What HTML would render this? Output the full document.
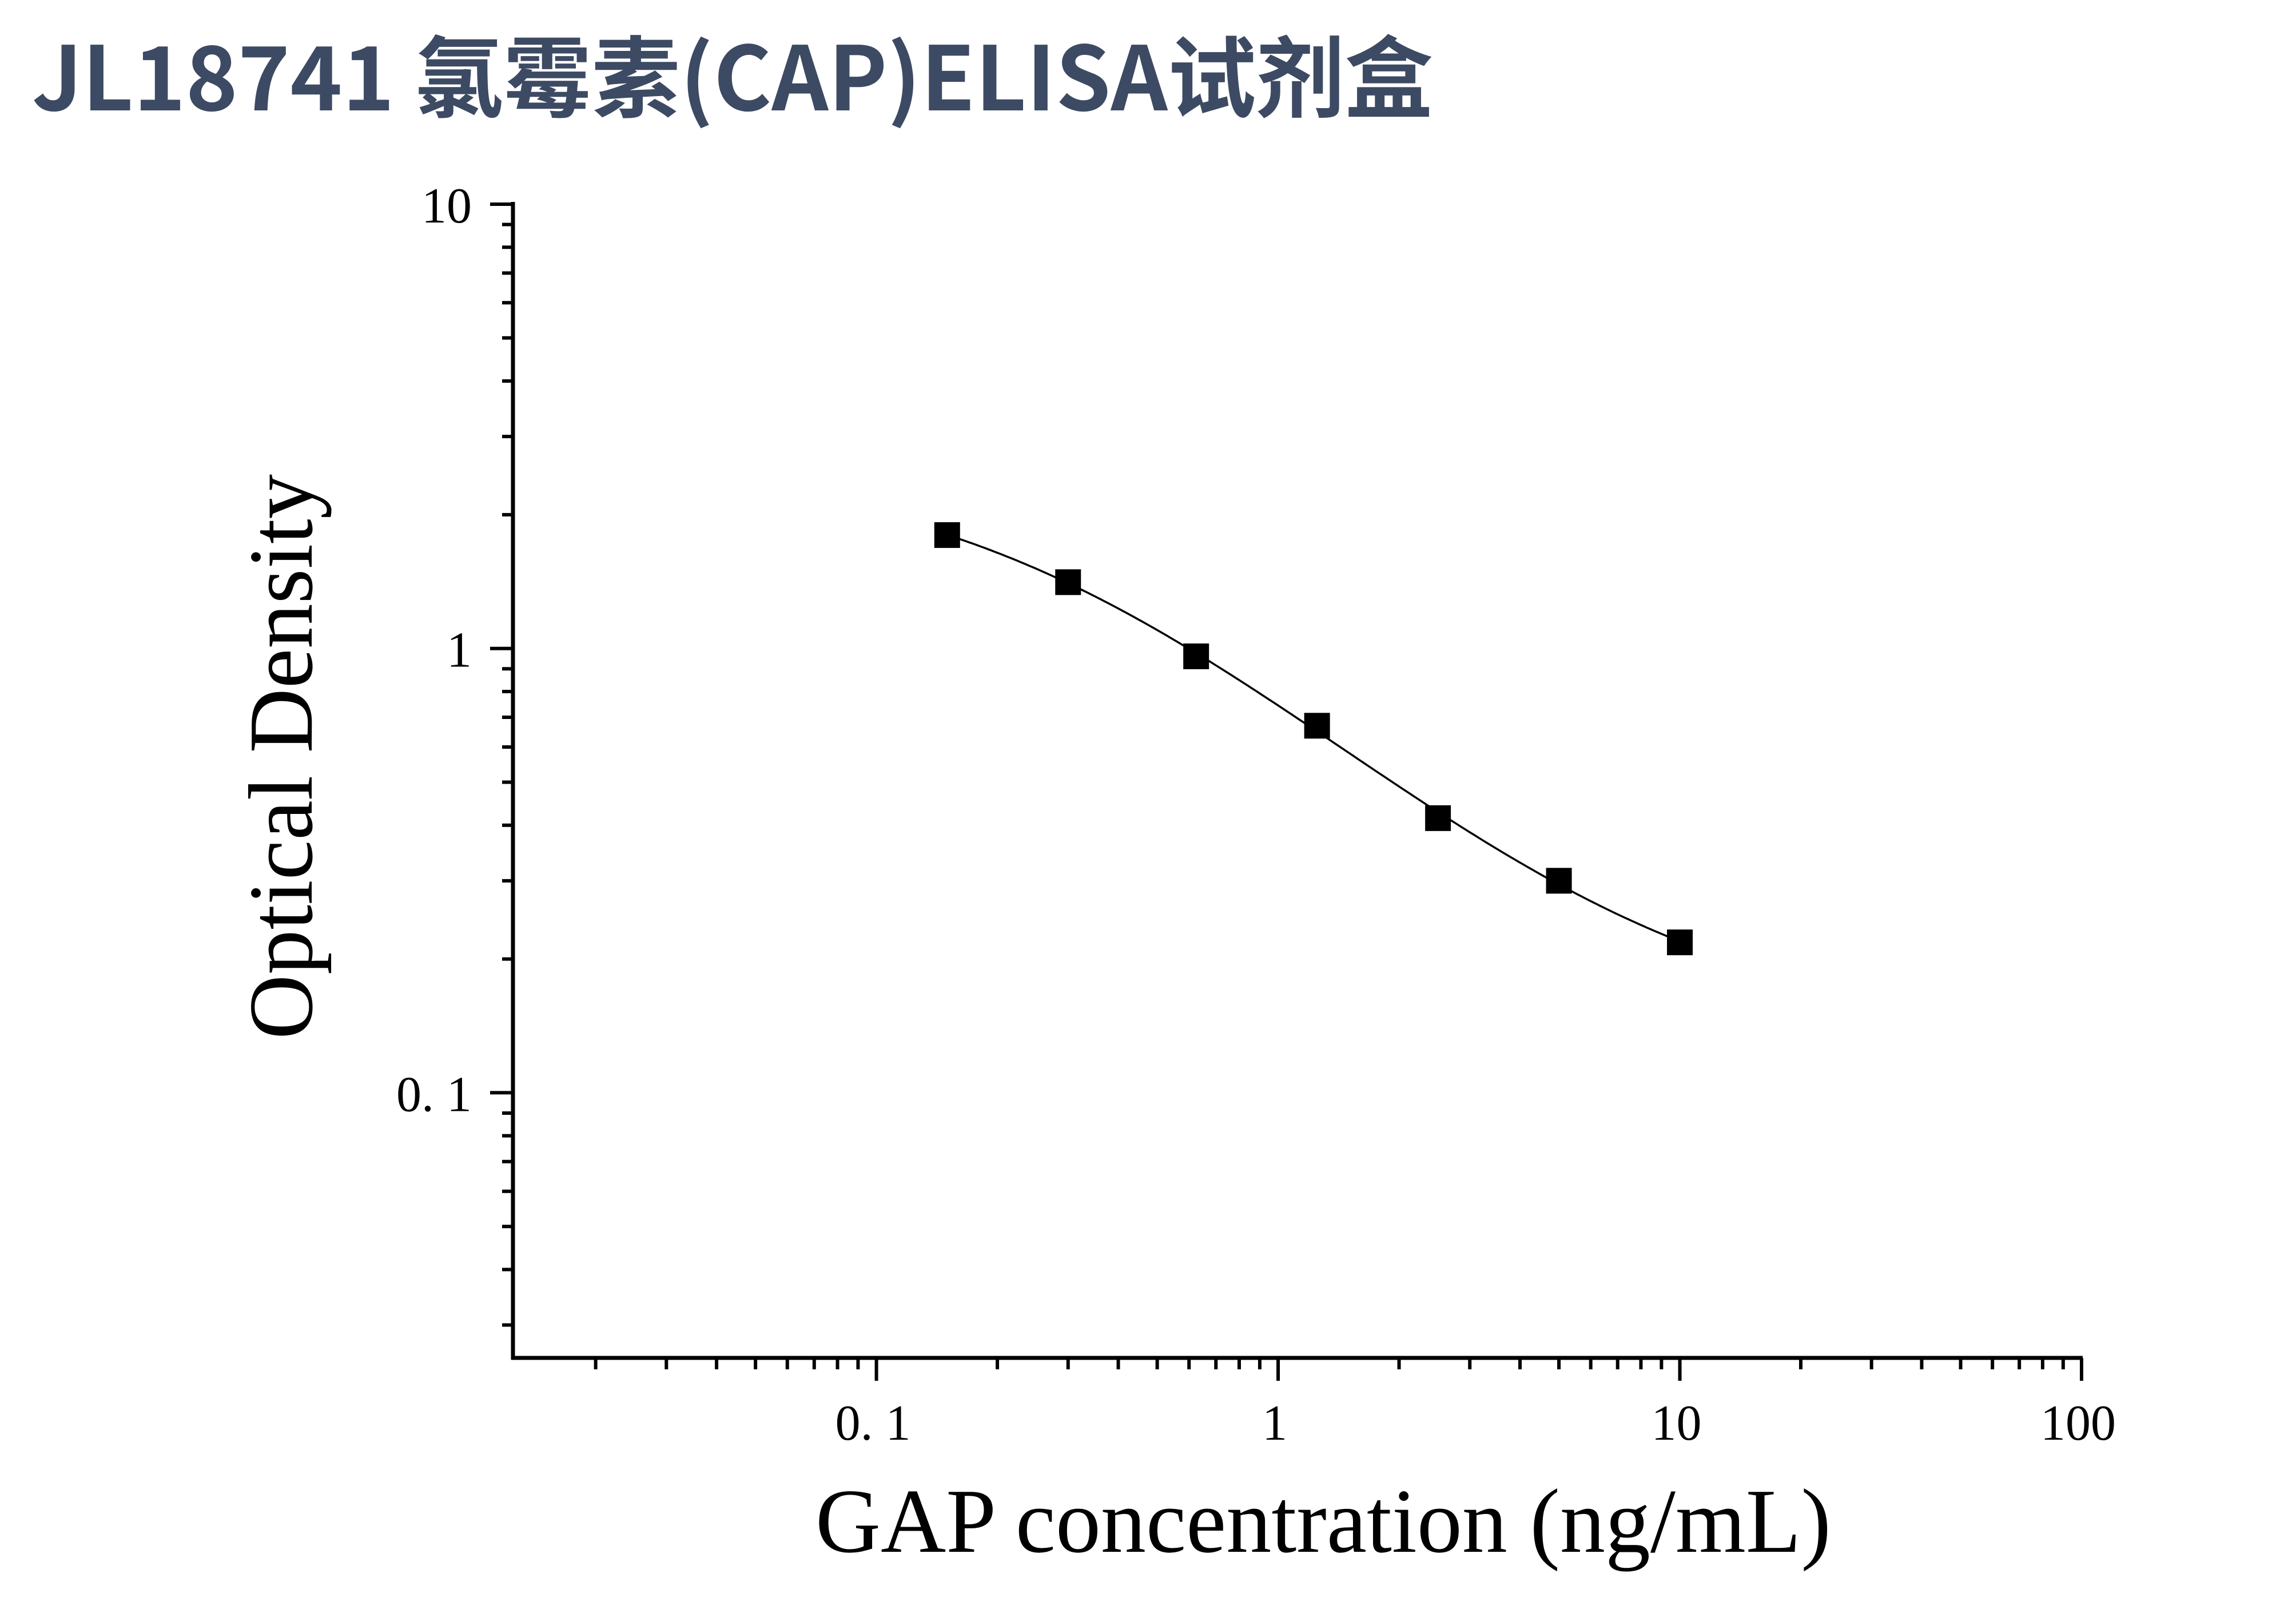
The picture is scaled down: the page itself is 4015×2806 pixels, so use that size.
<!DOCTYPE html>
<html><head><meta charset="utf-8"><style>
html,body{margin:0;padding:0;background:#fff;}
svg{display:block;}
</style></head><body>
<svg id="chart" width="4015" height="2806" viewBox="0 0 4015 2806" xmlns="http://www.w3.org/2000/svg">
<rect width="4015" height="2806" fill="#fff"/>
<text x="56" y="193" font-family="'Noto Sans CJK SC', 'Liberation Sans', sans-serif" font-weight="bold" font-size="155" fill="#3d4a63" textLength="2450" lengthAdjust="spacingAndGlyphs">JL18741 氯霉素(CAP)ELISA试剂盒</text>
<g id="axes"></g>
<g id="marks"></g>
<text x="2314" y="2713" text-anchor="middle" font-family="'Liberation Serif', serif" font-size="160" fill="#000" textLength="1776" lengthAdjust="spacingAndGlyphs">GAP concentration (ng/mL)</text>
<text transform="translate(545,1323) rotate(-90)" text-anchor="middle" font-family="'Liberation Serif', serif" font-size="160" fill="#000" textLength="988" lengthAdjust="spacingAndGlyphs">Optical Density</text>
</svg>
<script>
const concentrations = [0.15, 0.3, 0.625, 1.25, 2.5, 5, 10];
const odValues = [1.80, 1.41, 0.96, 0.67, 0.415, 0.30, 0.218];
const xTickValues = [0.1, 1, 10, 100];
const xTickLabels = ["0. 1", "1", "10", "100"];
const yTickValues = [0.1, 1, 10];
const yTickLabels = ["0. 1", "1", "10"];

const NS = "http://www.w3.org/2000/svg";
const X0 = 897, XR = 3640, YB = 2374, YT = 357;
const xMin = 0.01245, xMax = 100;
const yMin = 0.0253, yMax = 10;
function xs(v){ return X0 + (Math.log10(v) - Math.log10(xMin)) / (Math.log10(xMax) - Math.log10(xMin)) * (XR - X0); }
function ys(v){ return YB - (Math.log10(v) - Math.log10(yMin)) / (Math.log10(yMax) - Math.log10(yMin)) * (YB - YT); }
function mk(tag, attrs, parent){ const e = document.createElementNS(NS, tag); for (const k in attrs) e.setAttribute(k, attrs[k]); parent.appendChild(e); return e; }

const axes = document.getElementById('axes');
const marks = document.getElementById('marks');

const yAxis = mk('line', {x1:X0, y1:YT-4, x2:X0, y2:YB+3, stroke:'#000', 'stroke-width':7}, axes);


const xAxis = mk('line', {x1:X0-3, y1:YB, x2:XR+2, y2:YB, stroke:'#000', 'stroke-width':7}, axes);



for (let d = -2; d <= 1; d++) {
  for (let m = 1; m <= 9; m++) {
    const v = m * Math.pow(10, d);
    if (v < yMin * 0.999 || v > yMax * 1.001) continue;
    const y = ys(v);
    const major = (m === 1);
    const t = mk('line', {x1: major ? 857 : 878, y1:y, x2:X0, y2:y, stroke:'#000', 'stroke-width':6}, axes);
    
    
  }
}
yTickValues.forEach((v, i) => {
  const t = mk('text', {x:825, y:ys(v)+32, 'text-anchor':'end', 'font-family':"'Liberation Serif', serif", 'font-size':88, fill:'#000'}, axes);
  t.textContent = yTickLabels[i];
  
  
});
for (let d = -2; d <= 2; d++) {
  for (let m = 1; m <= 9; m++) {
    const v = m * Math.pow(10, d);
    if (v < xMin * 1.001 || v > xMax * 1.001) continue;
    const x = xs(v);
    const major = (m === 1);
    const t = mk('line', {x1:x, y1:YB, x2:x, y2: major ? 2414 : 2394, stroke:'#000', 'stroke-width':6}, axes);
    
    
  }
}
xTickValues.forEach((v, i) => {
  const t = mk('text', {x:xs(v)-6, y:2517, 'text-anchor':'middle', 'font-family':"'Liberation Serif', serif", 'font-size':88, fill:'#000'}, axes);
  t.textContent = xTickLabels[i];
  
  
});

function model(p, x){ const [A,B,C,D] = p; return D + (A - D) / (1 + Math.pow(x / Math.abs(C), B)); }
function err(p){
  let s = 0;
  for (let i = 0; i < concentrations.length; i++) {
    const m = model(p, concentrations[i]);
    if (!(m > 0)) return 1e9;
    const e = Math.log10(m) - Math.log10(odValues[i]);
    s += e * e;
  }
  return s;
}
function nelder(f, x0){
  const n = x0.length;
  let simplex = [x0.slice()];
  for (let i = 0; i < n; i++) { const v = x0.slice(); v[i] = v[i] * 1.2 + 0.05; simplex.push(v); }
  let vals = simplex.map(f);
  for (let it = 0; it < 3000; it++) {
    const idx = vals.map((v,i)=>i).sort((a,b)=>vals[a]-vals[b]);
    simplex = idx.map(i=>simplex[i]); vals = idx.map(i=>vals[i]);
    const c = new Array(n).fill(0);
    for (let i = 0; i < n; i++) for (let j = 0; j < n; j++) c[j] += simplex[i][j] / n;
    const w = simplex[n];
    const r = c.map((v,j)=>v + (v - w[j])); const fr = f(r);
    if (fr < vals[0]) {
      const e = c.map((v,j)=>v + 2*(v - w[j])); const fe = f(e);
      if (fe < fr) { simplex[n] = e; vals[n] = fe; } else { simplex[n] = r; vals[n] = fr; }
    } else if (fr < vals[n-1]) { simplex[n] = r; vals[n] = fr; }
    else {
      const k = c.map((v,j)=>v + 0.5*(w[j] - v)); const fk = f(k);
      if (fk < vals[n]) { simplex[n] = k; vals[n] = fk; }
      else { for (let i = 1; i <= n; i++) { simplex[i] = simplex[i].map((v,j)=>simplex[0][j] + 0.5*(v - simplex[0][j])); vals[i] = f(simplex[i]); } }
    }
  }
  return simplex[0];
}
const fit = nelder(err, [2.3, 1.0, 1.5, 0.12]);
const xa = Math.log10(concentrations[0]), xb = Math.log10(concentrations[concentrations.length-1]);
let d = '';
for (let k = 0; k <= 200; k++) {
  const lx = xa + (xb - xa) * k / 200;
  const x = Math.pow(10, lx);
  d += (k ? ' L' : 'M') + xs(x).toFixed(1) + ',' + ys(model(fit, x)).toFixed(1);
}
const curve = mk('path', {d:d, fill:'none', stroke:'#000', 'stroke-width':3.5}, marks);



concentrations.forEach((c, i) => {
  const px = xs(c), py = ys(odValues[i]);
  const r = mk('rect', {x:px-22.5, y:py-22.5, width:45, height:45, fill:'#000'}, marks);
  
  
});
</script>
</body></html>
